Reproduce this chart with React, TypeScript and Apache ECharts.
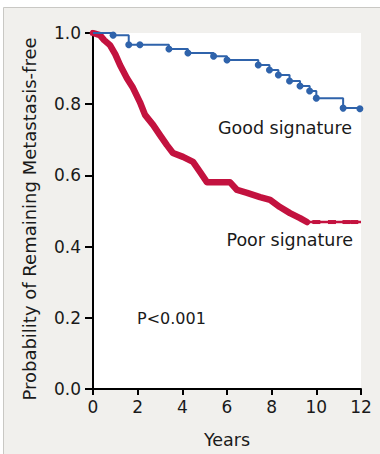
import React, { useEffect, useRef } from "react";
import * as echarts from "echarts";

// Good signature (Kaplan-Meier step points)
const goodTimes = [0, 0.9, 1.6, 2.1, 3.4, 4.25, 5.4, 6.0, 7.4, 7.9, 8.3, 8.8, 9.27, 9.7, 10.0, 11.2, 11.95];
const goodSurv = [1.0, 0.994, 0.967, 0.967, 0.955, 0.944, 0.935, 0.924, 0.91, 0.896, 0.882, 0.865, 0.851, 0.837, 0.817, 0.789, 0.787];

// Poor signature (dense events: traced along the band)
const poorTimes = [0, 0.31, 0.5, 0.76, 1.0, 1.21, 1.52, 1.79, 2.1, 2.33, 2.69, 3.0, 3.31, 3.58, 4.03, 4.48, 4.79, 5.1, 6.13, 6.45, 6.9, 7.48, 7.93, 8.37, 8.82, 9.27, 9.58];
const poorSurv = [1.0, 0.994, 0.98, 0.966, 0.94, 0.91, 0.873, 0.846, 0.806, 0.77, 0.742, 0.713, 0.685, 0.663, 0.652, 0.638, 0.61, 0.581, 0.581, 0.559, 0.551, 0.539, 0.531, 0.511, 0.494, 0.48, 0.469];
const poorTailTimes = [9.58, 10.0, 10.7, 11.35, 11.7, 12.0];
const poorTailSurv = [0.469, 0.469, 0.469, 0.469, 0.469, 0.469];

const xTicks = [0, 2, 4, 6, 8, 10, 12];
const yTicks = [0, 0.2, 0.4, 0.6, 0.8, 1.0];

const FONT = "DejaVu Sans";
const TEXT = "#1a1a1a";
const BLUE = "#2f63ab";
const RED = "#c3123f";

export default function App() {
  const ref = useRef<HTMLDivElement>(null);
  useEffect(() => {
    if (!ref.current) return;
    const chart = echarts.init(ref.current, null, { renderer: "svg" });
    const goodData = goodTimes.map((t, i) =>
      i === 0 ? { value: [t, goodSurv[i]], symbol: "none" } : { value: [t, goodSurv[i]] }
    );
    const poorData = poorTimes.map((t, i) => [t, poorSurv[i]]);
    const tailData = poorTailTimes.map((t, i) =>
      i === 0 || i === poorTailTimes.length - 1
        ? { value: [t, poorTailSurv[i]], symbol: "none" }
        : { value: [t, poorTailSurv[i]] }
    );
    chart.setOption({
      animation: false,
      backgroundColor: "#ffffff",
      graphic: [
        {
          type: "rect",
          z: -10,
          silent: true,
          shape: { x: 3.5, y: 7.5, width: 400, height: 470 },
          style: { fill: "#f1f0ed", stroke: "#c9c8c4", lineWidth: 1 },
        },
        {
          type: "text",
          x: 29,
          y: 219,
          rotation: Math.PI / 2,
          style: {
            text: "Probability of Remaining Metastasis-free",
            font: `18px "${FONT}"`,
            fill: TEXT,
            align: "center",
            verticalAlign: "middle",
          },
        },
        {
          type: "text",
          x: 352,
          y: 128,
          style: { text: "Good signature", font: `17.5px "${FONT}"`, fill: TEXT, align: "right", verticalAlign: "middle" },
        },
        {
          type: "text",
          x: 353,
          y: 240,
          style: { text: "Poor signature", font: `17.5px "${FONT}"`, fill: TEXT, align: "right", verticalAlign: "middle" },
        },
        {
          type: "text",
          x: 137,
          y: 318,
          style: { text: "P<0.001", font: `16px "${FONT}"`, fill: TEXT, align: "left", verticalAlign: "middle" },
        },
      ],
      grid: {
        left: 93,
        top: 33,
        right: 19,
        bottom: 65,
        show: true,
        backgroundColor: "#ffffff",
        borderWidth: 0,
      },
      xAxis: {
        type: "value",
        min: 0,
        max: 12,
        interval: 2,
        name: "Years",
        nameLocation: "middle",
        nameGap: 42,
        nameTextStyle: { fontFamily: FONT, fontSize: 17.5, color: TEXT },
        axisLine: { show: true, lineStyle: { color: "#000", width: 2 } },
        axisTick: { show: true, length: 6, lineStyle: { color: "#000", width: 2 } },
        axisLabel: {
          fontFamily: FONT,
          fontSize: 17,
          color: TEXT,
          margin: 9,
          customValues: xTicks,
        },
        splitLine: { show: false },
      },
      yAxis: {
        type: "value",
        min: 0,
        max: 1,
        interval: 0.2,
        axisLine: { show: true, onZero: false, lineStyle: { color: "#000", width: 2 } },
        axisTick: { show: true, length: 8, lineStyle: { color: "#000", width: 2 } },
        axisLabel: {
          fontFamily: FONT,
          fontSize: 17,
          color: TEXT,
          margin: 12,
          formatter: (v: number) => (yTicks.some((t) => Math.abs(t - v) < 1e-6) ? v.toFixed(1) : ""),
        },
        splitLine: { show: false },
      },
      series: [
        {
          name: "Good signature",
          type: "line",
          step: "end",
          data: goodData,
          symbol: "circle",
          symbolSize: 7,
          showSymbol: true,
          itemStyle: { color: BLUE },
          lineStyle: { color: BLUE, width: 2 },
          z: 3,
        },
        {
          name: "Poor signature",
          type: "line",
          data: poorData,
          symbol: "none",
          lineStyle: { color: RED, width: 6.5, join: "round", cap: "round" },
          z: 2,
        },
        {
          name: "Poor tail",
          type: "line",
          step: "end",
          data: tailData,
          symbol: "rect",
          symbolSize: [8, 4],
          itemStyle: { color: RED },
          lineStyle: { color: RED, width: 2.5 },
          z: 2,
        },
      ],
    });
    return () => chart.dispose();
  }, []);
  return (
    <div
      ref={ref}
      style={{ position: "absolute", left: 0, top: 0, width: 380, height: 454 }}
    />
  );
}
